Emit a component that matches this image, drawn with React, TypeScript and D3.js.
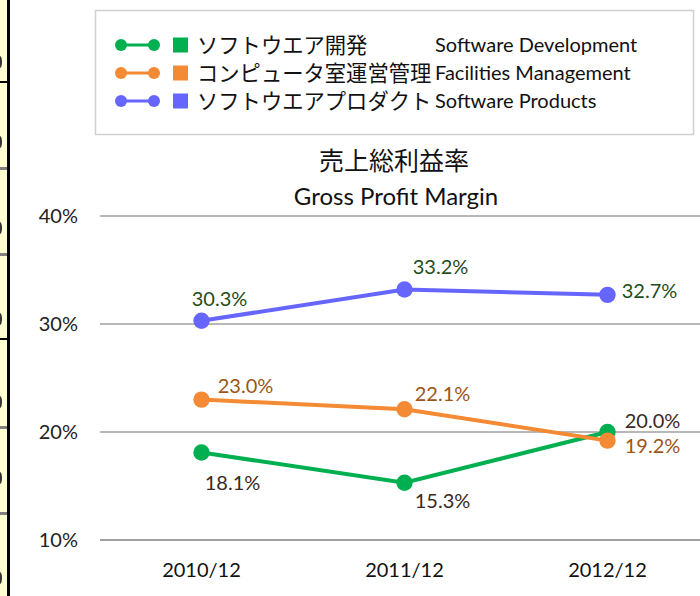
import React from "react";
import * as d3 from "d3";

const categories = ["2010/12", "2011/12", "2012/12"];
const softwareDev = [18.1, 15.3, 20.0];
const facilitiesMgmt = [23.0, 22.1, 19.2];
const softwareProducts = [30.3, 33.2, 32.7];
const yTicks = [10, 20, 30, 40];
const seriesNamesJa = ["ソフトウエア開発", "コンピュータ室運営管理", "ソフトウエアプロダクト"];
const seriesNamesEn = ["Software Development", "Facilities Management", "Software Products"];
const titleJa = "売上総利益率";
const titleEn = "Gross Profit Margin";

const W = 700;
const H = 596;
const LATIN = "Lato, 'Open Sans', sans-serif";
const CJK = "'Noto Sans CJK JP', sans-serif";

const series = [
  { values: softwareDev, color: "#00b050", labelColor: "#3b2a22",
    offs: [[31, 30], [38, 18.5], [45, -11]] },
  { values: facilitiesMgmt, color: "#f58a35", labelColor: "#9c5518",
    offs: [[44, -14], [38, -16], [45, 5]] },
  { values: softwareProducts, color: "#6666ff", labelColor: "#1f4e19",
    offs: [[18, -22], [36, -22.5], [42, -4]] },
];

export default function App() {
  const x = d3.scaleBand<string>().domain(categories).range([100, 709]);
  const y = d3.scaleLinear().domain([10, 40]).range([540, 216]);
  const cx = (c: string) => (x(c) as number) + x.bandwidth() / 2;
  const line = d3
    .line<number>()
    .x((_, i) => cx(categories[i]))
    .y((d) => y(d));

  const legendY = [45, 73, 101];
  const stripTicksGray = [168, 254, 427, 513];
  const stripTicksBlack = [82, 339];
  const stripGlyphs = [62, 142, 228, 319, 402, 478, 578];

  return (
    <svg width={W} height={H} style={{ position: "absolute", left: 0, top: 0, background: "#fff" }}>
      <rect x={0} y={0} width={W} height={H} fill="#fff" />
      {/* left spreadsheet strip */}
      <rect x={0} y={0} width={8} height={H} fill="#ffffd0" />
      {stripGlyphs.map((g, i) => (
        <ellipse key={i} cx={0} cy={g} rx={2} ry={6} fill="#333" />
      ))}
      {stripTicksGray.map((t, i) => (
        <rect key={i} x={0} y={t - 1} width={8} height={3} fill="#808080" />
      ))}
      {stripTicksBlack.map((t, i) => (
        <rect key={i} x={0} y={t - 1} width={8} height={2} fill="#000" />
      ))}
      <rect x={7} y={0} width={3} height={H} fill="#000" />

      {/* legend */}
      <rect x={95.5} y={10.5} width={598} height={124} fill="#fff" stroke="#d0d0d0" strokeWidth={1.5} />
      {series.map((s, i) => (
        <g key={i}>
          <line x1={121} x2={154} y1={legendY[i]} y2={legendY[i]} stroke={s.color} strokeWidth={3} />
          <circle cx={121} cy={legendY[i]} r={6} fill={s.color} />
          <circle cx={154} cy={legendY[i]} r={6} fill={s.color} />
          <rect x={173} y={legendY[i] - 7.5} width={15} height={15} fill={s.color} />
          <text x={197} y={legendY[i]} dy="0.36em" fontFamily={CJK} fontSize={21.3} fill="#111">
            {seriesNamesJa[i]}
          </text>
          <text x={435} y={legendY[i]} dy="0.36em" fontFamily={LATIN} fontSize={20} fill="#111">
            {seriesNamesEn[i]}
          </text>
        </g>
      ))}

      {/* title */}
      <text x={394} y={161} dy="0.36em" textAnchor="middle" fontFamily={CJK} fontSize={25} fill="#111">
        {titleJa}
      </text>
      <text x={396} y={205} textAnchor="middle" fontFamily={LATIN} fontSize={24} fill="#111">
        {titleEn}
      </text>

      {/* grid */}
      {yTicks.map((t) => (
        <g key={t}>
          <line x1={100} x2={W} y1={y(t)} y2={y(t)} stroke="#a0a0a0" strokeWidth={t === 10 ? 2 : 1.5} />
          <text x={78} y={y(t)} dy="0.36em" textAnchor="end" fontFamily={LATIN} fontSize={20} fill="#222">
            {t}%
          </text>
        </g>
      ))}
      {categories.map((c) => (
        <text key={c} x={cx(c)} y={570} dy="0.36em" textAnchor="middle" fontFamily={LATIN} fontSize={20} fill="#111">
          {c}
        </text>
      ))}

      {/* series */}
      {series.map((s, i) => (
        <g key={i}>
          <path d={line(s.values) || ""} fill="none" stroke={s.color} strokeWidth={4} />
          {s.values.map((v, j) => (
            <circle key={j} cx={cx(categories[j])} cy={y(v)} r={8.2} fill={s.color} />
          ))}
        </g>
      ))}
      {series.map((s, i) => (
        <g key={"l" + i}>
          {s.values.map((v, j) => (
            <text
              key={j}
              x={cx(categories[j]) + s.offs[j][0]}
              y={y(v) + s.offs[j][1]}
              dy="0.36em"
              textAnchor="middle"
              fontFamily={LATIN}
              fontSize={20}
              fill={s.labelColor}
            >
              {v.toFixed(1)}%
            </text>
          ))}
        </g>
      ))}
    </svg>
  );
}
